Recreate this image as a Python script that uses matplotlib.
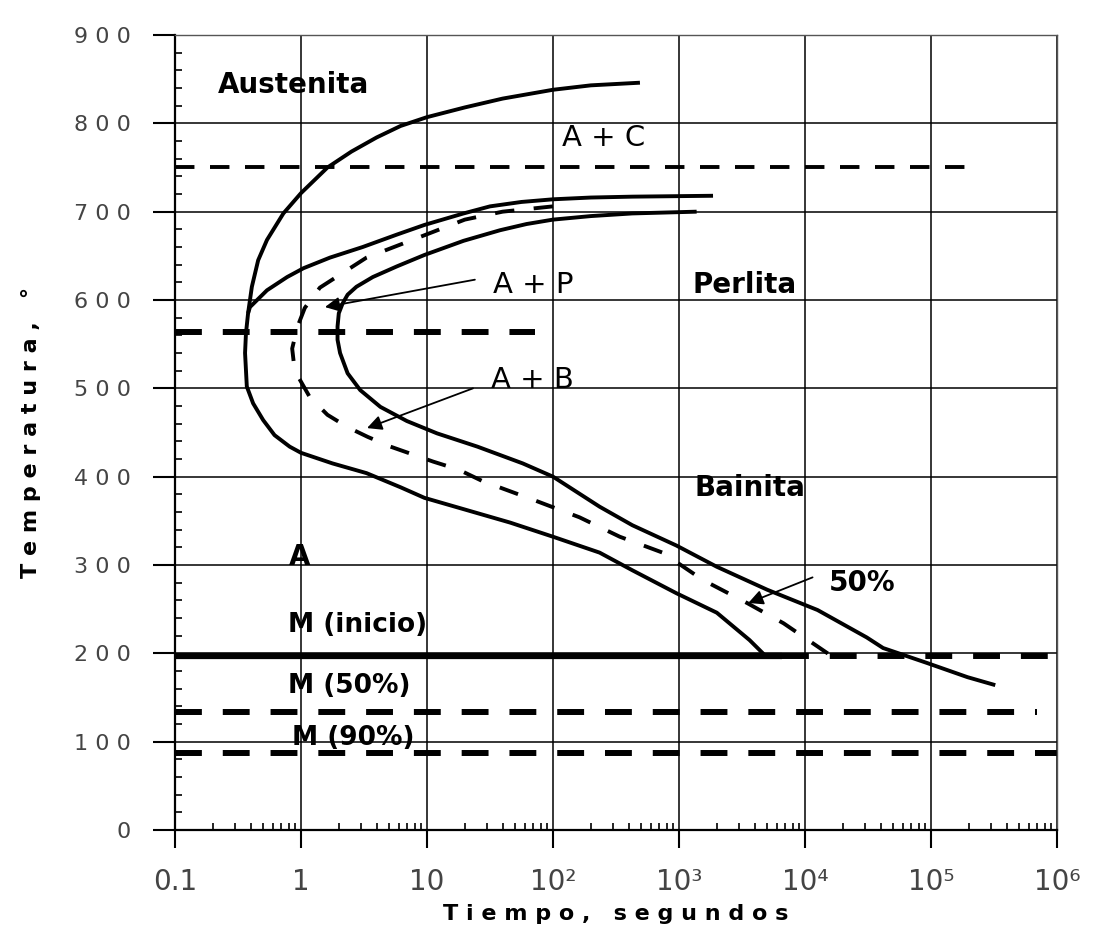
import numpy as np
import matplotlib.pyplot as plt
from matplotlib import font_manager
from matplotlib.ticker import FixedLocator, LogLocator, NullFormatter

# fonts: condensed bold for the region labels if it is there
installed = {f.name for f in font_manager.fontManager.ttflist}
NARROW = 'Liberation Sans Narrow' in installed
label_font = ['Liberation Sans Narrow', 'DejaVu Sans'] if NARROW else ['DejaVu Sans']
label_size = 27 if NARROW else 20

# axis ticks
x_ticks = [0.1, 1, 10, 1e2, 1e3, 1e4, 1e5, 1e6]
x_tick_labels = ['0.1', '1', '10', '10²', '10³', '10⁴', '10⁵', '10⁶']
y_ticks = [0, 100, 200, 300, 400, 500, 600, 700, 800, 900]
y_tick_labels = ['0', '1 0 0', '2 0 0', '3 0 0', '4 0 0', '5 0 0', '6 0 0', '7 0 0', '8 0 0', '9 0 0']

# start of transformation (outer C curve), log10(time) and temperature
start_logt = [2.69, 2.3, 2.0, 1.6, 1.3, 1.0, 0.79, 0.6, 0.4, 0.21, 0.0, -0.14, -0.27, -0.34,
              -0.39, -0.42, -0.437, -0.444, -0.43, -0.38, -0.30, -0.21, -0.09, 0.0, 0.25, 0.52,
              0.79, 0.98, 1.32, 1.66, 2.0, 2.37, 2.63, 2.98, 3.30, 3.56, 3.68]
start_T = [846, 843, 838, 828, 818, 807, 797, 784, 768, 750, 721, 698, 668, 645,
           615, 585, 562, 540, 502, 483, 464, 447, 434, 427, 415, 404,
           388, 376, 362, 348, 332, 314, 294, 268, 246, 215, 198]

# second solid curve (A + P boundary)
pearl_logt = [-0.42, -0.405, -0.27, -0.11, 0.02, 0.23, 0.49, 0.76, 0.98, 1.29, 1.5, 1.75,
              2.0, 2.3, 2.63, 3.27]
pearl_T = [585, 592, 611, 626, 636, 648, 660, 674, 685, 698, 706, 711,
           714, 716, 717, 718]

# 50 % transformation (dashed)
half_logt = [2.0, 1.6, 1.3, 0.92, 0.52, 0.15, 0.03, -0.03, -0.07, -0.05, 0.07, 0.21, 0.37,
             0.53, 0.71, 0.89, 1.05, 1.25, 1.44, 1.84, 2.21, 2.53, 2.87, 3.19, 3.54, 3.83, 4.2]
half_T = [706, 700, 691, 670, 648, 614, 591, 569, 545, 520, 490, 470, 456,
          445, 434, 425, 417, 408, 395, 374, 354, 332, 314, 283, 257, 234, 198]

# end of transformation (inner curve)
end_logt = [3.14, 2.63, 2.3, 2.0, 1.79, 1.58, 1.29, 0.98, 0.76, 0.57, 0.44, 0.37,
            0.33, 0.30, 0.29, 0.29, 0.31, 0.37, 0.47, 0.63, 0.84, 1.08, 1.40, 1.76, 2.0, 2.37,
            2.63, 2.98, 3.30, 3.70, 4.10, 4.49, 4.62, 4.97, 5.29, 5.51]
end_T = [700, 698, 695, 691, 686, 679, 667, 651, 638, 626, 615, 606,
         596, 585, 570, 555, 540, 517, 498, 479, 463, 449, 434, 415, 400, 366,
         345, 322, 298, 272, 249, 218, 206, 189, 173, 164]

# horizontal lines: temperature, end time
ac_T, ac_end = 750, 10**5.39
nose_T, nose_end = 564, 10**1.86
ms_T, ms_solid_end = 197, 10**3.82
m50_T, m50_end = 134, 10**5.84
m90_T, m90_end = 87, 1e6

# region labels: text, log10(time), temperature, bold
labels = [('Austenita', -0.063, 843, True),
          ('A + C', 2.40, 783, False),
          ('A + P', 1.84, 617, False),
          ('Perlita', 3.52, 617, True),
          ('A + B', 1.84, 509, False),
          ('Bainita', 3.56, 387, True),
          ('50%', 4.45, 280, True),
          ('A', -0.008, 309, True)]
m_labels = [('M (inicio)', -0.103, 232),
            ('M (50%)', -0.103, 163),
            ('M (90%)', -0.07, 104)]

# arrows: tail (logt, T), head (logt, T)
arrows = [((1.38, 623), (0.19, 592)),
          ((1.365, 500), (0.524, 455)),
          ((4.06, 286), (3.55, 257))]

fig = plt.figure(figsize=(11.06, 9.3), dpi=100)
ax = fig.add_axes([175 / 1106, 1 - 830 / 930, 882 / 1106, 795 / 930])
ax.set_xscale('log')
ax.set_xlim(0.1, 1e6)
ax.set_ylim(0, 900)

# curves
ax.plot(10**np.array(start_logt), start_T, color='k', lw=2.8, solid_capstyle='butt')
ax.plot(10**np.array(pearl_logt), pearl_T, color='k', lw=2.8, solid_capstyle='butt')
ax.plot(10**np.array(end_logt), end_T, color='k', lw=2.8, solid_capstyle='butt')
ax.plot(10**np.array(half_logt), half_T, color='k', lw=2.8, dashes=(5, 5))

# horizontal lines
ax.plot([0.1, ac_end], [ac_T, ac_T], color='k', lw=2.8, dashes=(5, 4))
ax.plot([0.1, nose_end], [nose_T, nose_T], color='k', lw=4.3, dashes=(4.5, 3.5))
ax.plot([0.1, ms_solid_end], [ms_T, ms_T], color='k', lw=4.5, solid_capstyle='butt')
ax.plot([ms_solid_end, 1e6], [ms_T, ms_T], color='k', lw=4.3, dashes=(4.5, 3.5))
ax.plot([0.1, m50_end], [m50_T, m50_T], color='k', lw=4.3, dashes=(4.5, 3.5))
ax.plot([0.1, m90_end], [m90_T, m90_T], color='k', lw=4.3, dashes=(4.5, 3.5))

# texts
for txt, lt, T, bold in labels:
    ax.text(10**lt, T, txt, ha='center', va='center', family=label_font,
            fontsize=label_size if bold else label_size * 1.05,
            fontweight='bold' if bold else 'normal', color='k')
for txt, lt, T in m_labels:
    ax.text(10**lt, T, txt, ha='left', va='center', family=label_font,
            fontsize=label_size * 0.95, fontweight='bold', color='k')

for (tl, tT), (hl, hT) in arrows:
    ax.annotate('', xy=(10**hl, hT), xytext=(10**tl, tT),
                arrowprops=dict(arrowstyle='-|>', color='k', lw=1.3,
                                mutation_scale=22, shrinkA=0, shrinkB=0))

# ticks and grid
ax.xaxis.set_major_locator(FixedLocator(x_ticks))
ax.set_xticklabels(x_tick_labels)
ax.xaxis.set_minor_locator(LogLocator(base=10, subs=np.arange(2, 10), numticks=20))
ax.xaxis.set_minor_formatter(NullFormatter())
ax.set_yticks(y_ticks)
ax.set_yticklabels(y_tick_labels)
ax.yaxis.set_minor_locator(FixedLocator(np.arange(0, 901, 20)))

ax.tick_params(axis='x', which='major', direction='out', length=13, width=1.5,
               labelsize=20, pad=14, labelcolor='#444')
ax.tick_params(axis='y', which='major', direction='out', length=16, width=1.5,
               labelsize=16, pad=16, labelcolor='#444')
ax.tick_params(axis='both', which='minor', direction='in', length=5, width=1.2)

ax.grid(True, which='major', color='k', lw=1.1)
ax.set_axisbelow(True)
for side in ['left', 'bottom']:
    ax.spines[side].set_linewidth(1.6)
for side in ['top', 'right']:
    ax.spines[side].set_color('#555')
    ax.spines[side].set_linewidth(1.0)

ax.set_xlabel('T i e m p o ,   s e g u n d o s', fontsize=16, fontweight='bold')
ax.set_ylabel('T e m p e r a t u r a ,   °', fontsize=16, fontweight='bold')
ax.xaxis.set_label_coords(0.5, -0.093)
ax.yaxis.set_label_coords(-0.152, 0.5)

fig.savefig('out.png', dpi=100)
